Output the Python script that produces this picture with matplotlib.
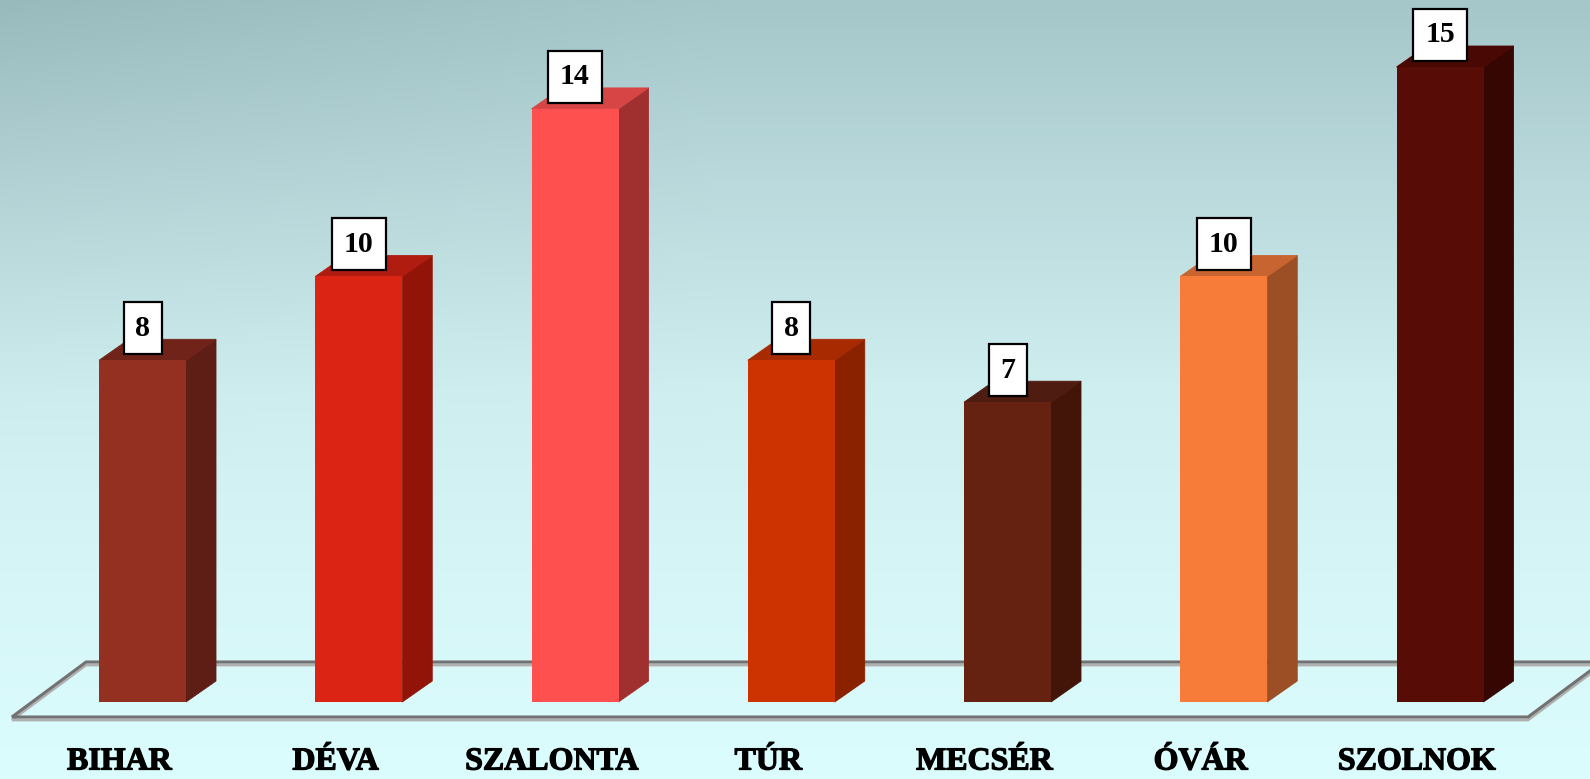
import matplotlib.pyplot as plt
import matplotlib.patheffects as pe
from matplotlib.patches import Polygon, Rectangle
import numpy as np

# ── Data ─────────────────────────────────────────────────────────
categories = ["BIHAR", "DÉVA", "SZALONTA", "TÚR", "MECSÉR", "ÓVÁR", "SZOLNOK"]
values = [8, 10, 14, 8, 7, 10, 15]

# front, side, top
colors = [
    ("#943022", "#5e1e16", "#702419"),
    ("#dc2414", "#921408", "#b01c10"),
    ("#ff5050", "#a03030", "#d84545"),
    ("#cc3300", "#8a2200", "#a82a00"),
    ("#662211", "#421508", "#4e1c10"),
    ("#f77b39", "#9c4e24", "#c86430"),
    ("#580c06", "#360602", "#4a0804"),
]

# ── Geometry (data units) ────────────────────────────────────────
W, H = 1590, 779
PX_X, PX_Y = 216.25, 41.9          # pixels per unit
X0, Y0 = 142.5, 695.5              # pixel of (0, 0)
BAR_W = 87 / PX_X
DX, DY = 30 / PX_X, 21 / PX_Y
BASE = -6.5 / PX_Y

fig = plt.figure(figsize=(W / 100, H / 100), dpi=100)
ax = fig.add_axes([0, 0, 1, 1])
xl = (-X0 / PX_X, (W - X0) / PX_X)
yl = (-(H - Y0) / PX_Y, Y0 / PX_Y)
ax.set_xlim(*xl)
ax.set_ylim(*yl)
ax.axis("off")

# ── Background gradient ──────────────────────────────────────────
ny, nx = 300, 200
t = np.linspace(0, 1, ny)[:, None]
top = np.array([0xa6, 0xc7, 0xca]) / 255
mid = np.array([0xcf, 0xee, 0xf0]) / 255
bot = np.array([0xdc, 0xfd, 0xfe]) / 255
tt = t[..., None]
grad = np.where(tt < 0.5, top + (mid - top) * (tt / 0.5),
                mid + (bot - mid) * ((tt - 0.5) / 0.5))
grad = np.broadcast_to(grad, (ny, nx, 3)).copy()
xs = np.linspace(0, 1, nx)[None, :, None]
shade = 0.05 * np.clip(1 - xs / 0.45, 0, 1) * np.clip(1 - t[..., None] / 0.6, 0, 1)
grad = np.clip(grad - shade, 0, 1)
ax.imshow(grad, extent=[xl[0], xl[1], yl[0], yl[1]], aspect="auto",
          zorder=0, origin="upper")

# ── Floor ────────────────────────────────────────────────────────
fl_front, fl_back = -21.5 / PX_Y, 33.5 / PX_Y
fl_l0, fl_l1 = -0.604, -0.261
fl_r0, fl_r1 = 6.407, 6.749
floor = [(fl_l0, fl_front), (fl_l1, fl_back), (fl_r1, fl_back), (fl_r0, fl_front)]
off = 3 / PX_Y
ax.add_patch(Polygon([(x, y - off) for x, y in floor], closed=True, fill=False,
                     edgecolor="#b0b0b0", lw=2.0, zorder=1))
ax.add_patch(Polygon(floor, closed=True, fill=False,
                     edgecolor="#727272", lw=2.2, zorder=1.1))

# ── Bars ─────────────────────────────────────────────────────────
heavy = [pe.withStroke(linewidth=0.9, foreground="black")]
for i, (v, (cf, cs, ct)) in enumerate(zip(values, colors)):
    x0, x1 = i - BAR_W / 2, i + BAR_W / 2
    ax.add_patch(Polygon([(x1, BASE), (x1 + DX, BASE + DY), (x1 + DX, v + DY), (x1, v)],
                         closed=True, facecolor=cs, edgecolor=cs, lw=0.6, zorder=2))
    ax.add_patch(Polygon([(x0, v), (x0 + DX, v + DY), (x1 + DX, v + DY), (x1, v)],
                         closed=True, facecolor=ct, edgecolor=ct, lw=0.6, zorder=2))
    ax.add_patch(Rectangle((x0, BASE), BAR_W, v - BASE, facecolor=cf,
                           edgecolor="none", zorder=3))

    # value box
    txt = str(v)
    bw = (22 + 16 * len(txt)) / PX_X
    bh = 52 / PX_Y
    by = v + 6 / PX_Y
    ax.add_patch(Rectangle((i - bw / 2, by), bw, bh, facecolor="white",
                           edgecolor="black", lw=1.6, zorder=4))
    ax.text(i, by + bh / 2, txt, ha="center", va="center", fontsize=21.5,
            fontweight="bold", family="Liberation Serif", color="black", zorder=5)

    # category label
    ax.text(i - 23 / PX_X, -66.5 / PX_Y, categories[i], ha="center", va="center",
            fontsize=23, fontweight="bold", family="Liberation Serif",
            color="black", zorder=5, path_effects=heavy)

plt.savefig("out.png", dpi=100)
plt.close()
